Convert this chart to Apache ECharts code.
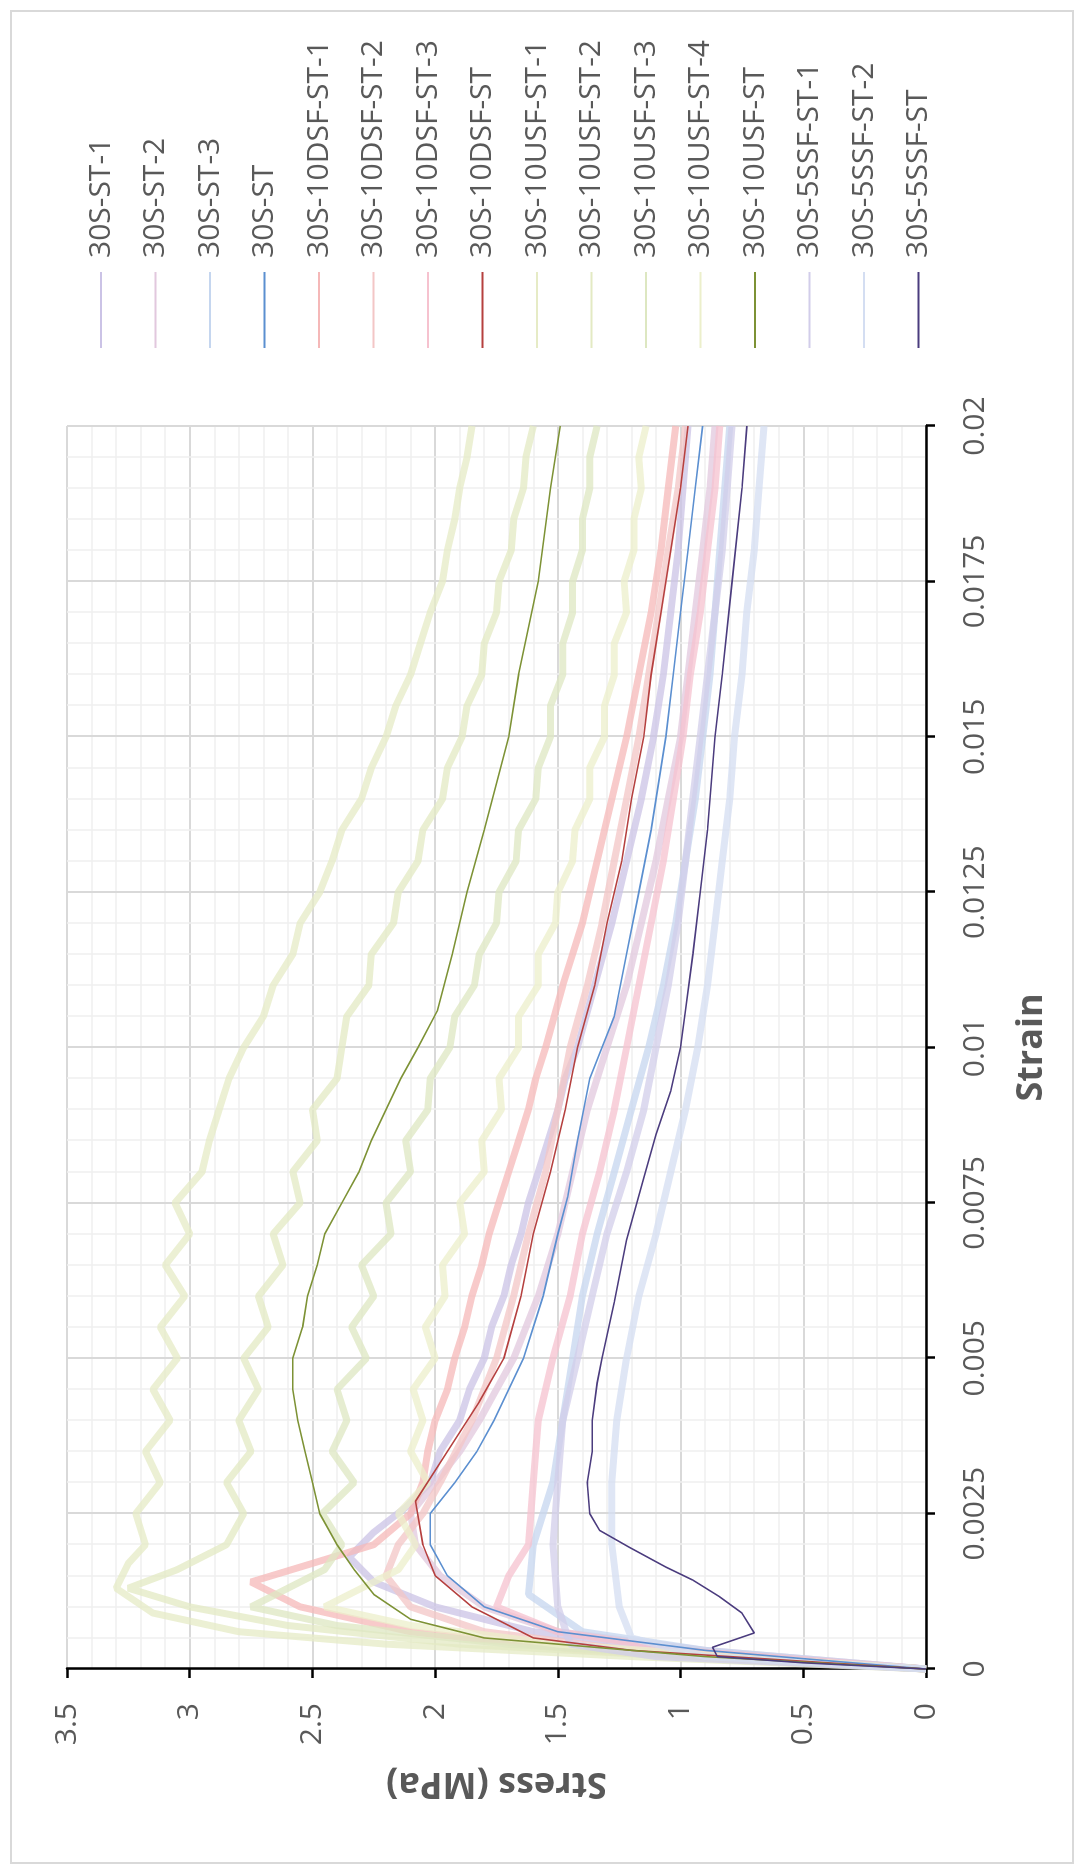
<!DOCTYPE html>
<html>
<head>
<meta charset="utf-8">
<script src="https://cdn.jsdelivr.net/npm/echarts@6/dist/echarts.min.js"></script>
<style>
  html, body { margin: 0; padding: 0; background: #ffffff; }
  body { width: 1080px; height: 1867px; overflow: hidden; position: relative; }
  #chart {
    position: absolute; left: 0; top: 0;
    width: 1867px; height: 1080px;
    transform-origin: 0 0;
    transform: translate(0px, 1867px) rotate(-90deg);
  }
</style>
</head>
<body>
<div id="chart"></div>
<script>
// ---- data (strain, stress MPa) ----
const seriesNames = ['30S-ST-1','30S-ST-2','30S-ST-3','30S-ST',
  '30S-10DSF-ST-1','30S-10DSF-ST-2','30S-10DSF-ST-3','30S-10DSF-ST',
  '30S-10USF-ST-1','30S-10USF-ST-2','30S-10USF-ST-3','30S-10USF-ST-4','30S-10USF-ST',
  '30S-5SSF-ST-1','30S-5SSF-ST-2','30S-5SSF-ST'];

const strainTicks = ['0','0.0025','0.005','0.0075','0.01','0.0125','0.015','0.0175','0.02'];
const stressTicks = ['0','0.5','1','1.5','2','2.5','3','3.5'];

const st1 = [[0,0],[0.0003,1.0],[0.0006,1.6],[0.001,2.0],[0.0014,2.25],[0.0018,2.35],[0.0022,2.25],[0.0026,2.12],[0.003,2.02],[0.0035,1.98],[0.004,1.9],[0.0045,1.86],[0.005,1.8],[0.0055,1.77],[0.006,1.72],[0.0065,1.69],[0.007,1.65],[0.0075,1.62],[0.008,1.58],[0.0085,1.54],[0.009,1.5],[0.0095,1.47],[0.01,1.42],[0.011,1.35],[0.012,1.28],[0.013,1.22],[0.014,1.16],[0.015,1.11],[0.016,1.07],[0.017,1.04],[0.018,1.01],[0.019,0.99],[0.02,0.97]];
const st2 = [[0,0],[0.0003,0.9],[0.0006,1.5],[0.001,1.8],[0.0015,1.98],[0.002,2.08],[0.0025,2.1],[0.003,2.0],[0.0035,1.9],[0.004,1.82],[0.0045,1.75],[0.005,1.68],[0.006,1.58],[0.007,1.5],[0.008,1.44],[0.009,1.38],[0.01,1.3],[0.011,1.22],[0.012,1.16],[0.013,1.1],[0.014,1.05],[0.015,1.0],[0.016,0.97],[0.017,0.94],[0.018,0.91],[0.019,0.88],[0.02,0.86]];
const st3 = [[0,0],[0.0003,0.9],[0.0006,1.4],[0.0012,1.62],[0.002,1.6],[0.003,1.52],[0.004,1.48],[0.005,1.44],[0.006,1.4],[0.007,1.34],[0.008,1.27],[0.009,1.2],[0.01,1.13],[0.011,1.07],[0.012,1.02],[0.013,0.98],[0.014,0.94],[0.015,0.91],[0.016,0.88],[0.017,0.86],[0.018,0.84],[0.019,0.82],[0.02,0.8]];
const stAvg = [[0,0],[0.0003,0.9],[0.0006,1.5],[0.001,1.8],[0.0015,1.95],[0.002,2.02],[0.0025,2.02],[0.003,1.92],[0.0035,1.83],[0.004,1.76],[0.0045,1.7],[0.005,1.64],[0.006,1.56],[0.007,1.5],[0.0076,1.46],[0.0085,1.42],[0.0095,1.37],[0.0105,1.27],[0.0115,1.22],[0.0125,1.17],[0.0135,1.12],[0.015,1.06],[0.016,1.03],[0.017,1.0],[0.018,0.97],[0.019,0.94],[0.02,0.91]];

const dsf1 = [[0,0],[0.0003,1.4],[0.0006,2.1],[0.001,2.55],[0.0014,2.75],[0.0017,2.5],[0.002,2.25],[0.0025,2.1],[0.003,2.05],[0.0035,2.03],[0.004,2.0],[0.0045,1.95],[0.005,1.92],[0.0055,1.88],[0.006,1.85],[0.0065,1.81],[0.007,1.78],[0.0075,1.74],[0.008,1.7],[0.0085,1.66],[0.009,1.62],[0.0095,1.59],[0.01,1.55],[0.011,1.48],[0.012,1.4],[0.013,1.34],[0.014,1.28],[0.015,1.22],[0.016,1.17],[0.017,1.12],[0.018,1.08],[0.019,1.05],[0.02,1.02]];
const dsf2 = [[0,0],[0.0003,1.2],[0.0006,1.8],[0.001,2.1],[0.0015,2.2],[0.002,2.15],[0.0025,2.05],[0.003,1.98],[0.004,1.85],[0.005,1.75],[0.006,1.68],[0.007,1.62],[0.008,1.55],[0.009,1.5],[0.01,1.45],[0.011,1.38],[0.012,1.32],[0.013,1.27],[0.014,1.22],[0.015,1.17],[0.016,1.13],[0.017,1.09],[0.018,1.05],[0.019,1.01],[0.02,0.98]];
const dsf3 = [[0,0],[0.0003,1.0],[0.0006,1.5],[0.001,1.75],[0.0015,1.7],[0.002,1.62],[0.003,1.6],[0.004,1.58],[0.005,1.52],[0.006,1.45],[0.007,1.4],[0.008,1.33],[0.009,1.27],[0.01,1.22],[0.011,1.17],[0.012,1.12],[0.013,1.07],[0.014,1.03],[0.015,0.99],[0.016,0.96],[0.017,0.92],[0.018,0.89],[0.019,0.86],[0.02,0.84]];
const dsfAvg = [[0,0],[0.0003,1.2],[0.0005,1.6],[0.001,1.85],[0.0015,2.0],[0.002,2.05],[0.0027,2.08],[0.0035,1.95],[0.0043,1.82],[0.005,1.72],[0.006,1.65],[0.007,1.6],[0.008,1.53],[0.009,1.47],[0.01,1.42],[0.011,1.35],[0.012,1.3],[0.013,1.24],[0.014,1.2],[0.015,1.15],[0.016,1.12],[0.017,1.08],[0.018,1.04],[0.019,1.0],[0.02,0.97]];

const usf1 = [[0,0],[0.0002,1.2],[0.0004,2.2],[0.0006,2.8],[0.0009,3.15],[0.0013,3.3],[0.0017,3.25],[0.002,3.18],[0.0025,3.22],[0.003,3.12],[0.0035,3.18],[0.004,3.08],[0.0045,3.15],[0.005,3.05],[0.0055,3.12],[0.006,3.02],[0.0065,3.1],[0.007,3.0],[0.0075,3.06],[0.008,2.95],[0.0085,2.92],[0.009,2.88],[0.0095,2.84],[0.01,2.78],[0.0105,2.7],[0.011,2.66],[0.0115,2.58],[0.012,2.55],[0.0125,2.47],[0.013,2.42],[0.0135,2.38],[0.014,2.3],[0.0145,2.26],[0.015,2.2],[0.0155,2.16],[0.016,2.1],[0.0165,2.06],[0.017,2.02],[0.0175,1.97],[0.018,1.95],[0.0185,1.92],[0.019,1.9],[0.0195,1.87],[0.02,1.85]];
const usf2 = [[0,0],[0.0002,1.0],[0.0004,1.9],[0.0007,2.6],[0.001,3.0],[0.0013,3.25],[0.0016,3.05],[0.002,2.85],[0.0025,2.78],[0.003,2.85],[0.0035,2.75],[0.004,2.8],[0.0045,2.72],[0.005,2.78],[0.0055,2.68],[0.006,2.72],[0.0065,2.62],[0.007,2.66],[0.0075,2.55],[0.008,2.58],[0.0085,2.48],[0.009,2.5],[0.0095,2.4],[0.01,2.38],[0.0105,2.36],[0.011,2.27],[0.0115,2.26],[0.012,2.17],[0.0125,2.15],[0.013,2.07],[0.0135,2.05],[0.014,1.97],[0.0145,1.95],[0.015,1.89],[0.0155,1.87],[0.016,1.81],[0.0165,1.8],[0.017,1.75],[0.0175,1.74],[0.018,1.69],[0.0185,1.68],[0.019,1.64],[0.0195,1.63],[0.02,1.6]];
const usf3 = [[0,0],[0.0002,0.9],[0.0004,1.7],[0.0007,2.4],[0.001,2.75],[0.0013,2.6],[0.0016,2.45],[0.002,2.38],[0.0025,2.46],[0.003,2.33],[0.0035,2.42],[0.004,2.36],[0.0045,2.4],[0.005,2.28],[0.0055,2.34],[0.006,2.25],[0.0065,2.3],[0.007,2.18],[0.0075,2.2],[0.008,2.1],[0.0085,2.12],[0.009,2.03],[0.0095,2.02],[0.01,1.94],[0.0105,1.92],[0.011,1.84],[0.0115,1.82],[0.012,1.75],[0.0125,1.74],[0.013,1.67],[0.0135,1.66],[0.014,1.59],[0.0145,1.58],[0.015,1.53],[0.0155,1.53],[0.016,1.48],[0.0165,1.48],[0.017,1.44],[0.0175,1.44],[0.018,1.4],[0.0185,1.4],[0.019,1.37],[0.0195,1.37],[0.02,1.34]];
const usf4 = [[0,0],[0.0002,0.8],[0.0004,1.5],[0.0007,2.1],[0.001,2.45],[0.0013,2.3],[0.0016,2.15],[0.002,2.08],[0.0025,2.15],[0.003,2.03],[0.0035,2.1],[0.004,2.05],[0.0045,2.09],[0.005,2.0],[0.0055,2.04],[0.006,1.96],[0.0065,1.97],[0.007,1.88],[0.0075,1.9],[0.008,1.8],[0.0085,1.81],[0.009,1.73],[0.0095,1.74],[0.01,1.66],[0.0105,1.66],[0.011,1.58],[0.0115,1.58],[0.012,1.51],[0.0125,1.5],[0.013,1.44],[0.0135,1.43],[0.014,1.37],[0.0145,1.37],[0.015,1.31],[0.0155,1.31],[0.016,1.27],[0.0165,1.27],[0.017,1.22],[0.0175,1.23],[0.018,1.19],[0.0185,1.19],[0.019,1.16],[0.0195,1.17],[0.02,1.14]];
const usfAvg = [[0,0],[0.0002,0.9],[0.0005,1.8],[0.0008,2.1],[0.0012,2.25],[0.0016,2.33],[0.002,2.4],[0.0025,2.47],[0.003,2.5],[0.0035,2.53],[0.004,2.56],[0.0045,2.58],[0.005,2.58],[0.0055,2.54],[0.006,2.52],[0.0065,2.48],[0.007,2.45],[0.0075,2.38],[0.008,2.31],[0.0085,2.26],[0.009,2.2],[0.0095,2.14],[0.01,2.07],[0.0106,1.99],[0.0115,1.93],[0.0125,1.87],[0.0135,1.8],[0.015,1.7],[0.016,1.66],[0.0175,1.58],[0.019,1.53],[0.02,1.49]];

const ssf1 = [[0,0],[0.0002,1.1],[0.0004,1.45],[0.001,1.5],[0.002,1.52],[0.003,1.5],[0.004,1.48],[0.005,1.42],[0.006,1.36],[0.007,1.3],[0.008,1.22],[0.009,1.15],[0.01,1.1],[0.011,1.05],[0.012,1.01],[0.013,0.98],[0.014,0.95],[0.015,0.92],[0.016,0.89],[0.017,0.86],[0.018,0.83],[0.019,0.81],[0.02,0.79]];
const ssf2 = [[0,0],[0.0002,0.9],[0.0005,1.2],[0.001,1.25],[0.002,1.28],[0.003,1.28],[0.004,1.26],[0.005,1.22],[0.006,1.17],[0.007,1.1],[0.008,1.04],[0.009,0.98],[0.01,0.93],[0.011,0.89],[0.012,0.86],[0.013,0.83],[0.014,0.8],[0.015,0.78],[0.016,0.75],[0.017,0.73],[0.018,0.7],[0.019,0.68],[0.02,0.66]];
const ssfAvg = [[0,0],[0.0001,0.5],[0.0002,0.85],[0.00035,0.87],[0.00058,0.7],[0.0009,0.75],[0.00116,0.84],[0.00143,0.95],[0.00164,1.06],[0.00196,1.21],[0.00223,1.33],[0.0025,1.37],[0.003,1.38],[0.0035,1.36],[0.004,1.36],[0.0046,1.34],[0.005,1.32],[0.0059,1.27],[0.0069,1.22],[0.0079,1.15],[0.0086,1.1],[0.0093,1.04],[0.01,1.0],[0.0106,0.98],[0.0115,0.95],[0.0125,0.92],[0.0135,0.89],[0.015,0.86],[0.016,0.83],[0.0175,0.79],[0.019,0.75],[0.02,0.73]];

const seriesData = [st1, st2, st3, stAvg, dsf1, dsf2, dsf3, dsfAvg, usf1, usf2, usf3, usf4, usfAvg, ssf1, ssf2, ssfAvg];
const seriesColors = ['#cbc3e6','#e2c8de','#c5d6ef','#5b8fd0',
  '#f5b8b8','#f3c6c6','#f6c2cf','#b5403f',
  '#e6ebc6','#e3eac3','#dde7c1','#ecefcb','#7d9235',
  '#d2cdea','#d4def2','#4b3c7e'];
const isAverage = [false,false,false,true,false,false,false,true,false,false,false,false,true,false,false,true];

// ---- chart ----
const chart = echarts.init(document.getElementById('chart'), null, {renderer: 'canvas'});
const FONT = '"Open Sans", "DejaVu Sans", sans-serif';
const series = seriesNames.map((n, i) => ({
  name: n,
  type: 'line',
  data: seriesData[i],
  showSymbol: false,
  symbol: 'none',
  smooth: false,
  z: isAverage[i] ? 3 : 2,
  lineStyle: { color: seriesColors[i], width: isAverage[i] ? 1.6 : 7, opacity: isAverage[i] ? 1 : 0.75 },
  itemStyle: { color: seriesColors[i] },
  emphasis: { disabled: true },
  animation: false
}));

chart.setOption({
  animation: false,
  backgroundColor: '#ffffff',
  graphic: [{
    type: 'rect', left: 3, top: 10, z: -1,
    shape: { width: 1852, height: 1062 },
    style: { fill: '#ffffff', stroke: '#d9d9d9', lineWidth: 2 }
  }],
  grid: { left: 198, right: 426, top: 67, bottom: 154, containLabel: false },
  legend: {
    orient: 'vertical',
    left: 1514, top: 79,
    icon: 'rect',
    itemWidth: 76, itemHeight: 2, itemGap: 20.5,
    data: seriesNames,
    textStyle: { fontFamily: FONT, fontSize: 30, color: '#595959', lineHeight: 34, padding: [0, 0, 0, 9] }
  },
  xAxis: {
    type: 'value', min: 0, max: 0.02, interval: 0.0025,
    name: 'Strain', nameLocation: 'middle', nameGap: 88,
    nameTextStyle: { fontFamily: FONT, fontSize: 36, fontWeight: 'bold', color: '#595959' },
    axisLine: { show: true, onZero: false, lineStyle: { color: '#000000', width: 2.5 } },
    axisTick: { show: true, inside: false, length: 9, lineStyle: { color: '#000000', width: 2.5 } },
    axisLabel: { margin: 34, fontFamily: FONT, fontSize: 30, color: '#595959',
      formatter: v => strainTicks[Math.round(v / 0.0025)] },
    splitLine: { show: true, lineStyle: { color: '#d9d9d9', width: 2 } },
    minorTick: { show: false, splitNumber: 5 },
    minorSplitLine: { show: true, lineStyle: { color: '#efefef', width: 1.5 } }
  },
  yAxis: {
    type: 'value', min: 0, max: 3.5, interval: 0.5,
    name: 'Stress (MPa)', nameLocation: 'middle', nameGap: 96, nameRotate: 90,
    nameTextStyle: { fontFamily: FONT, fontSize: 36, fontWeight: 'bold', color: '#595959' },
    axisLine: { show: true, onZero: false, lineStyle: { color: '#000000', width: 2.5 } },
    axisTick: { show: true, inside: false, length: 9, lineStyle: { color: '#000000', width: 2.5 } },
    axisLabel: { margin: 34, fontFamily: FONT, fontSize: 30, color: '#595959',
      formatter: v => stressTicks[Math.round(v / 0.5)] },
    splitLine: { show: true, lineStyle: { color: '#d9d9d9', width: 2 } },
    minorTick: { show: false, splitNumber: 5 },
    minorSplitLine: { show: true, lineStyle: { color: '#efefef', width: 1.5 } }
  },
  series: series
});
</script>
</body>
</html>
